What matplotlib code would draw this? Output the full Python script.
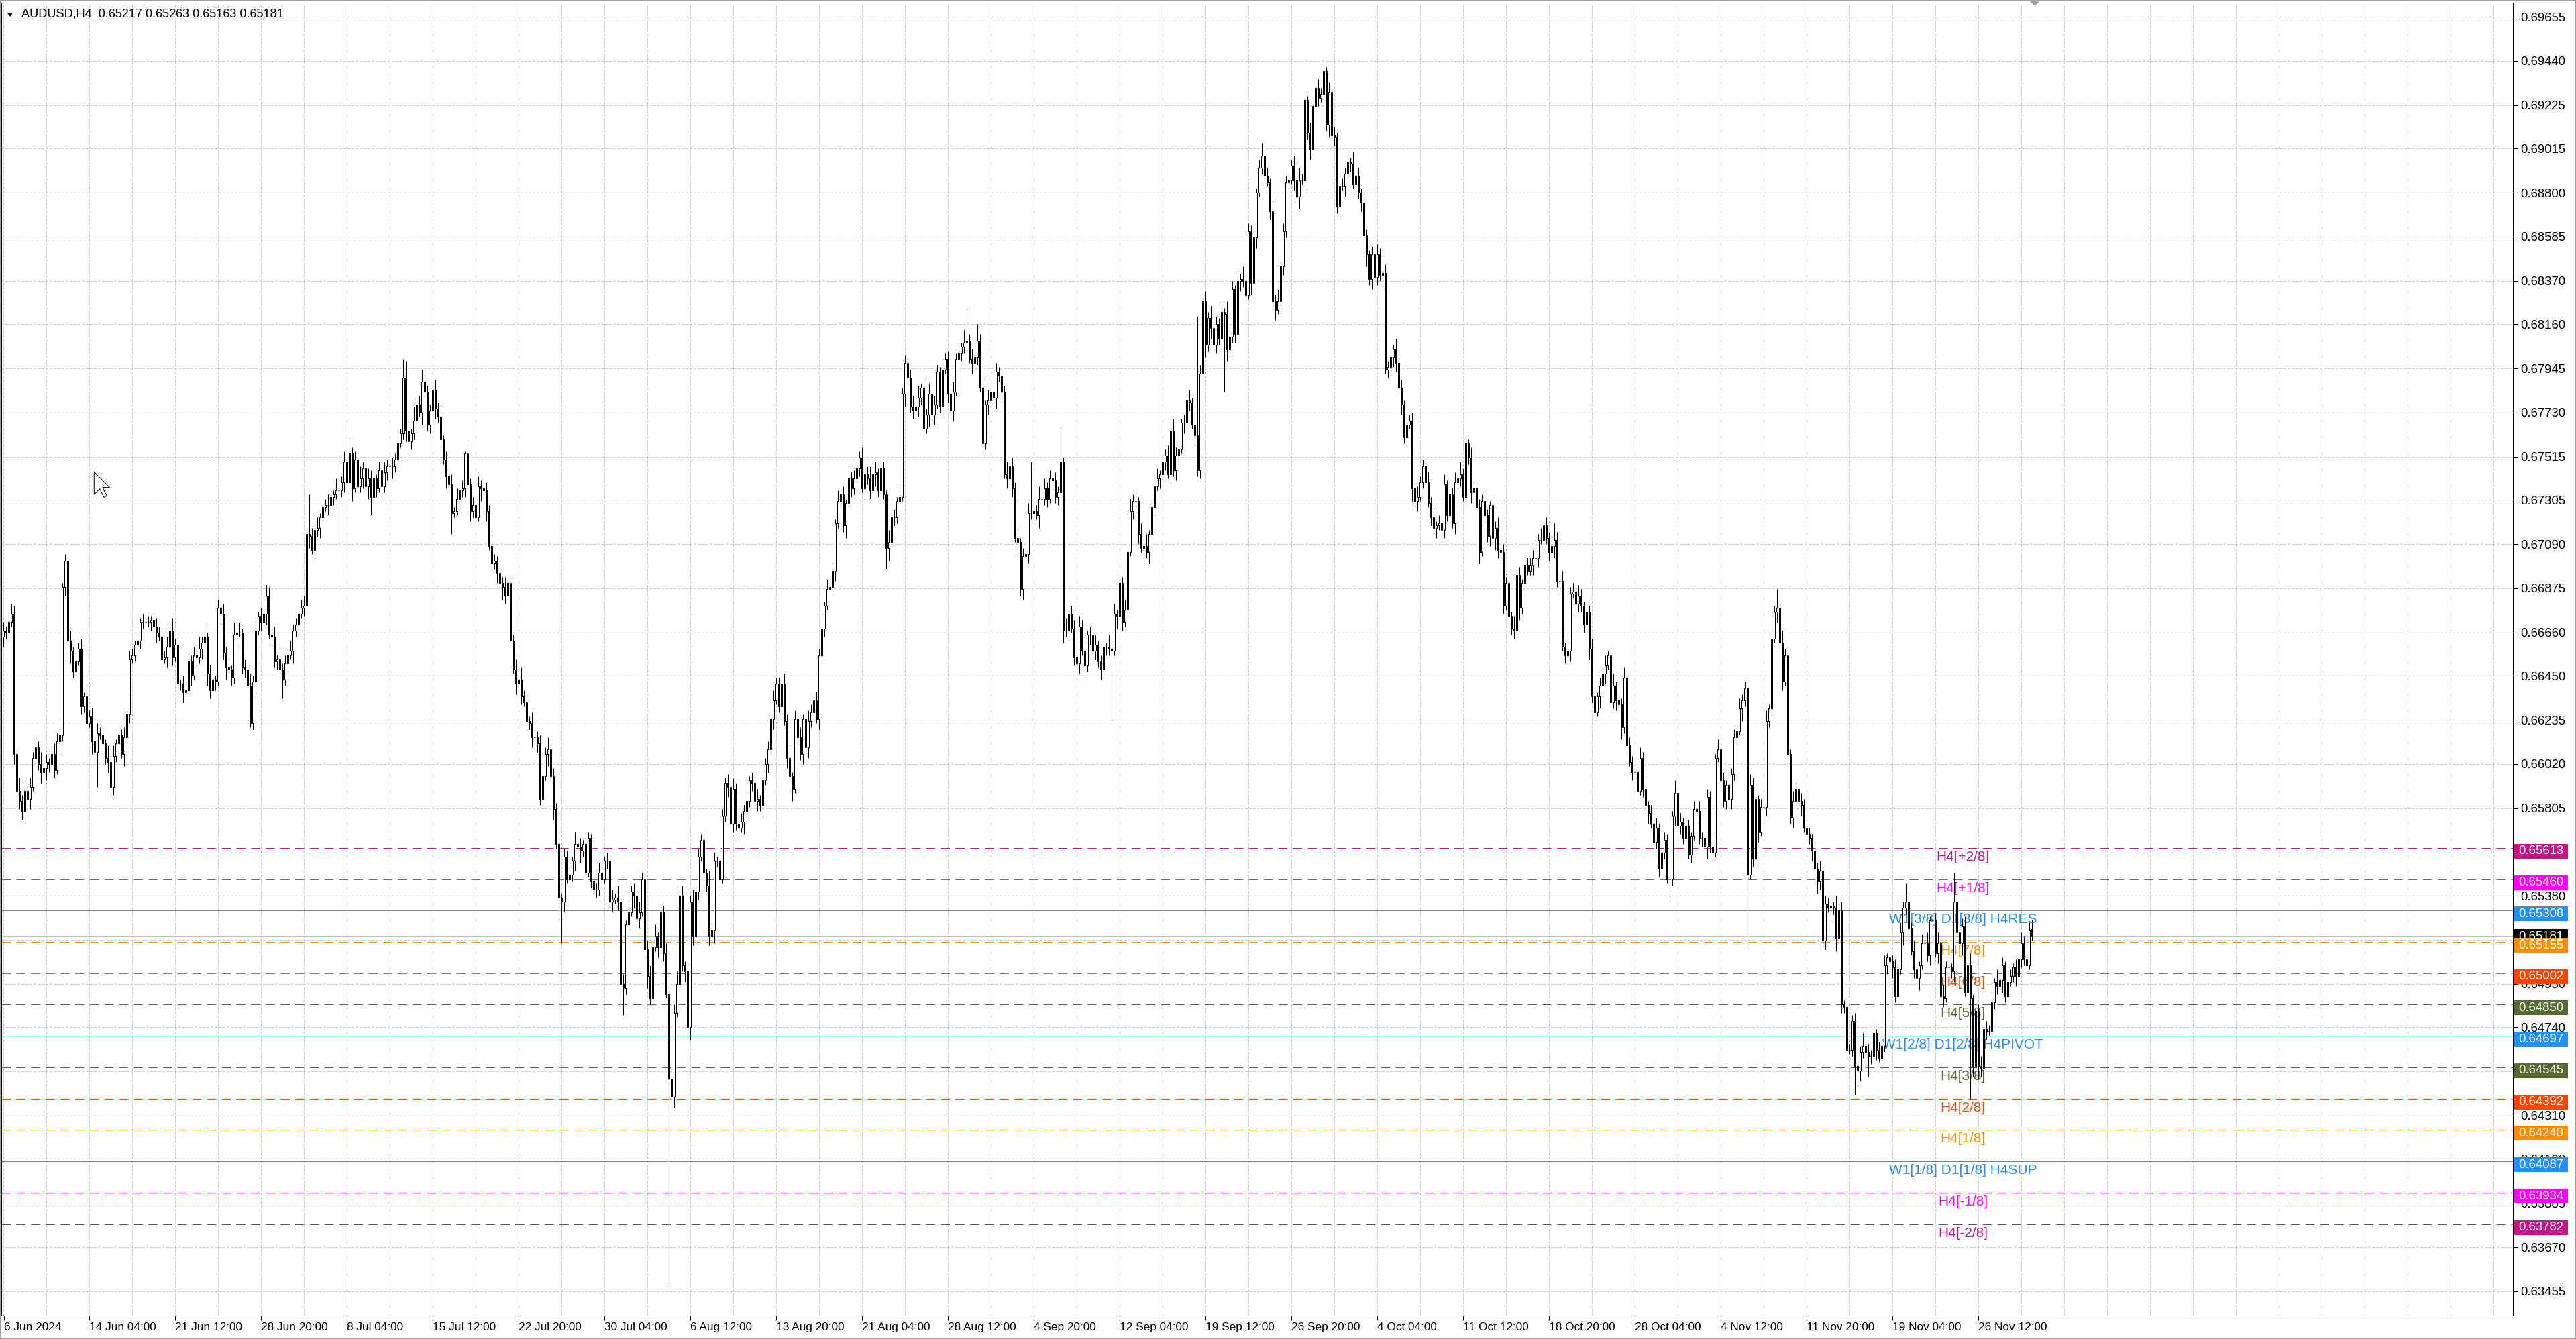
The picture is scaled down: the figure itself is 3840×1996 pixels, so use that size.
import numpy as np
import matplotlib
matplotlib.use("Agg")
import matplotlib.pyplot as plt
import matplotlib.transforms as mtransforms
from matplotlib.patches import Rectangle, Polygon

W, H, DPI = 3840, 1996, 100

# H4 bars counted from 6 Jun 2024 00:00, the first one on screen is bar 4
FIRST_BAR = 4
FIRST_OPEN = 660

# closes in pips above 0.6000, one per bar (bar 4 .. bar 761)
CLOSES = [
    664, 667, 666, 671, 675, 607, 589, 584, 579, 589,
    585, 591, 605, 610, 602, 598, 600, 603, 602, 607,
    599, 613, 616, 688, 701, 662, 657, 647, 652, 658,
    630, 635, 622, 625, 613, 608, 617, 616, 612, 605,
    603, 591, 606, 612, 616, 607, 615, 626, 653, 655,
    660, 662, 671, 671, 671, 671, 672, 669, 666, 664,
    653, 654, 659, 667, 654, 660, 641, 641, 637, 638,
    652, 645, 655, 654, 658, 661, 664, 646, 638, 643,
    642, 678, 675, 656, 649, 648, 644, 665, 666, 666,
    649, 648, 640, 622, 642, 667, 674, 671, 675, 684,
    665, 664, 652, 653, 648, 643, 651, 655, 657, 667,
    670, 675, 678, 679, 714, 713, 706, 716, 717, 722,
    727, 728, 728, 732, 733, 735, 735, 739, 749, 739,
    753, 736, 750, 737, 741, 746, 737, 741, 732, 741,
    736, 745, 737, 744, 747, 747, 747, 750, 758, 763,
    790, 764, 759, 763, 769, 777, 773, 788, 783, 767,
    774, 784, 775, 771, 760, 750, 742, 738, 724, 725,
    731, 735, 736, 753, 738, 725, 728, 722, 737, 736,
    735, 725, 708, 700, 701, 695, 690, 688, 684, 690,
    662, 648, 641, 643, 635, 632, 623, 622, 615, 615,
    612, 585, 596, 607, 609, 596, 580, 563, 537, 535,
    557, 546, 548, 555, 563, 562, 560, 563, 549, 566,
    545, 541, 541, 549, 546, 555, 555, 535, 536, 537,
    535, 495, 493, 524, 530, 540, 538, 527, 530, 546,
    512, 499, 488, 513, 518, 513, 530, 510, 490, 449,
    440, 481, 495, 538, 504, 501, 474, 535, 518, 540,
    557, 565, 549, 543, 518, 521, 555, 555, 546, 577,
    593, 591, 573, 590, 573, 571, 574, 579, 584, 594,
    593, 584, 585, 582, 594, 602, 609, 624, 633, 641,
    630, 641, 623, 605, 596, 590, 624, 615, 607, 624,
    610, 623, 627, 633, 624, 655, 668, 679, 687, 688,
    696, 719, 730, 733, 718, 729, 741, 736, 741, 746,
    751, 736, 743, 741, 735, 743, 744, 735, 746, 733,
    707, 710, 722, 722, 730, 732, 782, 797, 790, 776,
    774, 776, 780, 785, 765, 772, 782, 772, 777, 793,
    776, 794, 799, 782, 774, 783, 799, 802, 805, 807,
    808, 799, 797, 800, 808, 785, 758, 777, 779, 783,
    780, 793, 791, 783, 743, 741, 747, 736, 712, 710,
    687, 703, 704, 724, 724, 725, 723, 731, 731, 736,
    731, 741, 740, 732, 734, 749, 667, 667, 675, 668,
    654, 651, 669, 657, 650, 665, 665, 657, 660, 652,
    648, 659, 659, 658, 657, 675, 674, 690, 671, 677,
    705, 725, 730, 730, 714, 707, 708, 705, 714, 727,
    737, 741, 743, 749, 752, 743, 764, 745, 752, 755,
    768, 768, 779, 778, 767, 762, 745, 792, 827, 806,
    819, 814, 806, 816, 809, 822, 821, 804, 810, 833,
    811, 837, 838, 837, 830, 861, 836, 858, 880, 892,
    898, 888, 885, 871, 827, 823, 827, 844, 861, 885,
    886, 893, 886, 878, 886, 886, 925, 909, 901, 922,
    931, 926, 928, 939, 913, 929, 908, 907, 873, 883,
    883, 889, 895, 894, 884, 888, 880, 875, 859, 850,
    838, 850, 839, 850, 840, 841, 794, 795, 800, 804,
    797, 785, 777, 761, 767, 769, 736, 730, 732, 739,
    747, 739, 729, 722, 717, 718, 719, 716, 738, 723,
    733, 719, 739, 741, 743, 732, 758, 751, 734, 736,
    727, 705, 730, 723, 713, 728, 712, 717, 706, 705,
    679, 690, 674, 668, 667, 694, 678, 690, 699, 696,
    699, 702, 702, 711, 711, 718, 712, 705, 708, 711,
    691, 691, 659, 655, 657, 685, 686, 680, 684, 679,
    670, 676, 658, 635, 627, 635, 640, 646, 650, 655,
    632, 640, 633, 631, 620, 644, 611, 603, 598, 598,
    589, 605, 590, 582, 578, 573, 564, 571, 551, 559,
    565, 546, 546, 577, 588, 572, 574, 566, 572, 558,
    567, 580, 579, 566, 566, 562, 586, 562, 559, 605,
    609, 594, 584, 592, 585, 597, 615, 618, 629, 633,
    639, 548, 592, 556, 585, 569, 581, 581, 623, 629,
    663, 676, 678, 661, 642, 655, 607, 576, 584, 590,
    584, 582, 571, 568, 566, 560, 551, 545, 550, 516,
    534, 532, 533, 532, 517, 531, 485, 484, 463, 463,
    477, 455, 453, 462, 465, 462, 460, 460, 471, 463,
    459, 465, 504, 508, 506, 503, 489, 502, 520, 532,
    535, 522, 511, 502, 498, 504, 515, 515, 509, 526,
    526, 510, 515, 489, 488, 503, 503, 501, 535, 520,
    515, 523, 491, 504, 488, 455, 482, 455, 454, 473,
    472, 472, 486, 496, 494, 497, 504, 489, 496, 499,
    503, 499, 507, 515, 507, 504, 521, 518,
]

# wick lengths in pips above / below the body, one digit per bar
UPPER_WICKS = """
3425342635 2435362423 5432635243 5263425342 6352435243
2324232343 4352635243 5342635243 2435342635 2436352434
4352634253 3245324352 4353264352 5342632543 2435324352
6452734253 3453624352 5342634253 2436324352 4352634253
3453624352 4352634253 2435324352 6352734253 3453624352
5463524362 4352734253 2435324352 4352634253 3453624352
3542436253 4253426342 3524635243 2634253424 5362435243
2534253426 4356634253 3425362435 2435243625 3424352634
4253624352 3426352435 2634253624 3524352643 2435263425
3624352634 2536243524 6342536243 4352634253 2436253425
4352634253 2435324352 5342634253 3453624352 4352634253
2435324352 4352634253 3453624352 4352634253 2435324352
3624352434 2536243524 4352634253 2435324352 5342634253
3453624352 4352634253 2435324352 4352634253 3453624352
4352634253 2435324352 4352634253 3453624352 4352634253
24353243
"""
LOWER_WICKS = """
2534253426 3524352643 4253426352 4352635243 5243526342
3243524352 4253426352 3524352643 4253624352 3425362435
2534253426 3524362435 4253426352 3624352643 4253426352
3524352643 4253426352 2534253426 3524352643 4253426352
4352635243 5243526342 3243524352 4253426352 5634253426
6524352643 4253426352 3524352643 4253624352 3425362435
2534253426 3524362435 4253426352 3624352643 4253426352
3524352643 4253426352 2534253426 3524352643 4253426352
4352635243 5243526342 3243524352 4253426352 2534253426
3524352643 4253426352 3524352643 4253624352 3425362435
2534253426 3524362435 4253426352 3624352643 4253426352
3524352643 4253426352 2534253426 3524352643 4253426352
4352635243 5243526342 3243524352 4253426352 2534253426
3524352643 4253426352 3524352643 4253624352 3425362435
2534253426 3524362435 4253426352 3624352643 4253426352
35243526
"""

# long wicks read one by one (bar -> pips above 0.6000)
HIGH_FIX = {8: 680, 28: 704, 103: 689, 119: 733, 130: 752, 134: 761, 154: 799,
            155: 798, 161: 794, 177: 754, 364: 824, 368: 816, 388: 749, 399: 766,
            450: 820, 583: 719, 666: 687, 714: 544, 732: 549}
LOW_FIX = {11: 580, 12: 575, 40: 591, 45: 585, 97: 620, 109: 634, 130: 709,
           142: 723, 172: 714, 212: 526, 213: 515, 235: 484, 236: 480, 253: 349,
           334: 697, 370: 752, 418: 623, 460: 783, 626: 536, 655: 512, 695: 441,
           696: 445, 700: 450, 738: 439}

# last bar as printed in the header
LAST_OHLC = (0.65217, 0.65263, 0.65163, 0.65181)

PRICE_TICKS = ["0.69655", "0.69440", "0.69225", "0.69015", "0.68800", "0.68585",
               "0.68370", "0.68160", "0.67945", "0.67730", "0.67515", "0.67305",
               "0.67090", "0.66875", "0.66660", "0.66450", "0.66235", "0.66020",
               "0.65805", "0.65590", "0.65380", "0.65165", "0.64950", "0.64740",
               "0.64525", "0.64310", "0.64100", "0.63885", "0.63670", "0.63455"]

DATE_LABELS = ["6 Jun 2024", "14 Jun 04:00", "21 Jun 12:00", "28 Jun 20:00", "8 Jul 04:00",
               "15 Jul 12:00", "22 Jul 20:00", "30 Jul 04:00", "6 Aug 12:00",
               "13 Aug 20:00", "21 Aug 04:00", "28 Aug 12:00", "4 Sep 20:00",
               "12 Sep 04:00", "19 Sep 12:00", "26 Sep 20:00", "4 Oct 04:00",
               "11 Oct 12:00", "18 Oct 20:00", "28 Oct 04:00", "4 Nov 12:00",
               "11 Nov 20:00", "19 Nov 04:00", "26 Nov 12:00"]
DATE_BARS = [5.4] + [37 + 32 * j for j in range(23)]

LEVELS = [0.65613, 0.65460, 0.65308, 0.65155, 0.65002, 0.64850, 0.64697,
          0.64545, 0.64392, 0.64240, 0.64087, 0.63934, 0.63782]
LEVEL_NAMES = ["H4[+2/8]", "H4[+1/8]", "W1[3/8] D1[3/8] H4RES", "H4[7/8]", "H4[6/8]",
               "H4[5/8]", "W1[2/8] D1[2/8] H4PIVOT", "H4[3/8]", "H4[2/8]", "H4[1/8]",
               "W1[1/8] D1[1/8] H4SUP", "H4[-1/8]", "H4[-2/8]"]
LEVEL_COLORS = ["#C71585", "#FF00FF", "#1E90FF", "#FF8C00", "#FF4500", "#556B2F",
                "#1E90FF", "#556B2F", "#FF4500", "#FF8C00", "#1E90FF", "#FF00FF", "#C71585"]
LEVEL_SOLID = [False, False, True, False, False, False, True, False, False, False,
               True, False, False]

GRID = "#C0C0C0"

plt.rcParams["font.family"] = ["Liberation Sans", "DejaVu Sans"]

# screen geometry of the terminal window (pixels)
X_BAR0, BAR_PX = -15.3, 4.0
Y_REF, P_REF, PX_PER_PRICE = 25, 0.69655, 30645.0
AX_L, AX_R, AX_T, AX_B = 2, 3746, 4, 1961


def bar_at(px):
    return (px - X_BAR0) / BAR_PX


def price_at(py):
    return P_REF - (py - Y_REF) / PX_PER_PRICE


def py_of(price):
    return Y_REF + (P_REF - price) * PX_PER_PRICE


fig = plt.figure(figsize=(W / DPI, H / DPI), dpi=DPI, facecolor="white")
ax = fig.add_axes([AX_L / W, 1 - AX_B / H, (AX_R - AX_L) / W, (AX_B - AX_T) / H])
ax.set_xlim(bar_at(AX_L), bar_at(AX_R))
ax.set_ylim(price_at(AX_B), price_at(AX_T))
pxT = mtransforms.Affine2D().scale(1 / W, -1 / H).translate(0, 1) + fig.transFigure

# grid
for b in np.arange(5, bar_at(AX_R), 16):
    ax.axvline(b, color=GRID, lw=0.72, dashes=(3, 3), zorder=0.5)
for t in PRICE_TICKS:
    ax.axhline(float(t), color=GRID, lw=0.72, dashes=(3, 3), zorder=0.5)

# candles
n = len(CLOSES)
c = 0.6 + np.array(CLOSES, float) / 1e4
o = np.r_[0.6 + FIRST_OPEN / 1e4, c[:-1]]
o[-1], c[-1] = LAST_OHLC[0], LAST_OHLC[3]
uw = np.array([int(d) for d in "".join(UPPER_WICKS.split())], float)
lw = np.array([int(d) for d in "".join(LOWER_WICKS.split())], float)
hi = np.maximum(o, c) + uw[:n] / 1e4
lo = np.minimum(o, c) - lw[:n] / 1e4
for b, v in HIGH_FIX.items():
    i = b - FIRST_BAR
    hi[i] = max(0.6 + v / 1e4, o[i], c[i])
for b, v in LOW_FIX.items():
    i = b - FIRST_BAR
    lo[i] = min(0.6 + v / 1e4, o[i], c[i])
hi[-1], lo[-1] = LAST_OHLC[1], LAST_OHLC[2]
bars = np.arange(FIRST_BAR, FIRST_BAR + n)

ax.vlines(bars, lo, hi, color="black", lw=0.75, zorder=3)
up = c >= o
ax.bar(bars, np.abs(c - o), bottom=np.minimum(o, c), width=0.55,
       color=np.where(up, "white", "black"), edgecolor="black", linewidth=0.72, zorder=4)

# murrey levels
text_bar = bar_at(2926)
for lev, name, col, solid in zip(LEVELS, LEVEL_NAMES, LEVEL_COLORS, LEVEL_SOLID):
    if solid:
        ax.axhline(lev, color=col, lw=0.75, zorder=1.6)
    else:
        ax.axhline(lev, color=col, lw=0.75, dashes=(13, 8), zorder=1.6)
    ax.text(text_bar, price_at(py_of(lev) + 4), name, color=col, ha="center",
            va="top", fontsize=15, zorder=1.7)
ax.axhline(LAST_OHLC[3], color=GRID, lw=0.75, zorder=1.6)

# axes and ticks
for s in ax.spines.values():
    s.set_linewidth(0.72)
    s.set_color("black")
ax.yaxis.tick_right()
ax.set_yticks([float(t) for t in PRICE_TICKS])
ax.set_yticklabels(PRICE_TICKS)
ax.tick_params(axis="y", length=5, width=0.72, pad=3, labelsize=13.3)

ax.set_xticks(DATE_BARS)
ax.set_xticklabels(DATE_LABELS, ha="left", fontsize=12.4)
ax.tick_params(axis="x", length=5, width=0.72, pad=2)


# price boxes on the scale
def price_box(price, col, top_off=-6, bot_off=16):
    y = py_of(price)
    x0, x1 = bar_at(3748), bar_at(3828)
    ax.add_patch(Rectangle((x0, price_at(y + bot_off)), x1 - x0,
                           price_at(y + top_off) - price_at(y + bot_off),
                           facecolor=col, edgecolor="none", clip_on=False, zorder=10))
    ax.text((x0 + x1) / 2, price_at(y + (top_off + bot_off) / 2), f"{price:.5f}",
            color="white", ha="center", va="center", fontsize=13.3,
            clip_on=False, zorder=11)


price_box(LAST_OHLC[3], "black", -11, 11)
for lev, col in zip(LEVELS, LEVEL_COLORS):
    price_box(lev, col)

# header
fig.text(32.5 / W, 1 - 21 / H, "AUDUSD,H4  " + " ".join(f"{v:.5f}" for v in LAST_OHLC),
         fontsize=13.1, ha="left", va="center")
fig.add_artist(Polygon([(10.7, 19), (19.2, 19), (15, 25)], closed=True,
                       facecolor="black", edgecolor="none", transform=pxT))

# chart shift marker and mouse pointer
fig.add_artist(Polygon([(3026, 2), (3040, 2), (3033, 9)], closed=True,
                       facecolor="#A0A0A0", edgecolor="none", transform=pxT))
cur = np.array([(0, 0), (0, 33.6), (8.4, 25.2), (14.7, 37.8), (18.9, 35.7),
                (12.6, 23.1), (23.1, 23.1)]) + np.array([140.3, 703.5])
fig.add_artist(Polygon(cur, closed=True, facecolor="white", edgecolor="black",
                       lw=0.72, transform=pxT, zorder=20))

# window border
fig.add_artist(Rectangle((0, 0), 1, 1, transform=fig.transFigure, fill=False,
                         edgecolor="#A0A0A0", lw=1.5))

fig.savefig("out.png", dpi=DPI, facecolor="white")
